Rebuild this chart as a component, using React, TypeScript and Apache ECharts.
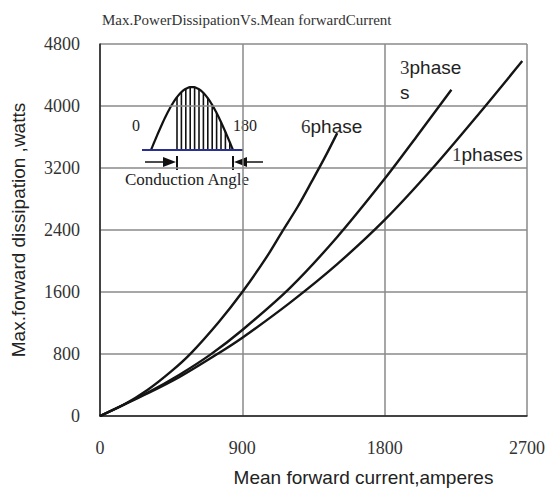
import React, { useEffect, useRef } from "react";
import * as echarts from "echarts";

const xTicks = [0, 900, 1800, 2700];
const yTicks = [0, 800, 1600, 2400, 3200, 4000, 4800];

const phase6Current = [0, 150, 300, 450, 573, 750, 900, 1050, 1152, 1250, 1340, 1420, 1500];
const phase6Power = [0, 145, 335, 575, 805, 1210, 1600, 2040, 2380, 2700, 3030, 3330, 3650];

const phase3Current = [0, 300, 500, 700, 900, 1200, 1500, 1800, 2000, 2222];
const phase3Power = [0, 300, 530, 795, 1110, 1650, 2310, 3060, 3600, 4210];

const phase1Current = [0, 300, 500, 750, 900, 1200, 1500, 1800, 2100, 2400, 2670];
const phase1Power = [0, 290, 500, 810, 1010, 1460, 1960, 2530, 3190, 3910, 4580];

const titleText = "Max.PowerDissipationVs.Mean forwardCurrent";
const xName = "Mean forward current,amperes";
const yName = "Max.forward dissipation ,watts";

const SERIF = "'Liberation Serif', 'DejaVu Serif', serif";
const SANS = "'Liberation Sans', Arial, sans-serif";

function pair(xs: number[], ys: number[]) {
  return xs.map((x, i) => [x, ys[i]]);
}

function buildInset() {
  const x0 = 151, x1 = 233, base = 150, amp = 63;
  const cy = (x: number) => base - amp * Math.sin((Math.PI * (x - x0)) / (x1 - x0));
  const pts: number[][] = [];
  for (let x = x0; x <= x1 + 0.001; x += 1) pts.push([x, cy(x)]);
  const hatch: any[] = [];
  for (let x = 177; x <= 231; x += 4.4) {
    hatch.push({
      type: "line",
      shape: { x1: x, y1: base, x2: x, y2: cy(x) },
      style: { stroke: "#111", lineWidth: 1.6 },
    });
  }
  return [
    { type: "rect", shape: { x: 120, y: 77, width: 153, height: 125 }, style: { fill: "#fff" } },
    ...hatch,
    { type: "polyline", shape: { points: pts }, style: { stroke: "#111", lineWidth: 2.2, fill: null } },
    { type: "line", shape: { x1: 142, y1: base, x2: 243, y2: base }, style: { stroke: "#2b2f8f", lineWidth: 2 } },
    { type: "line", shape: { x1: 145, y1: 162, x2: 165, y2: 162 }, style: { stroke: "#111", lineWidth: 1.5 } },
    { type: "polygon", shape: { points: [[163, 157], [176, 162], [163, 167]] }, style: { fill: "#111" } },
    { type: "line", shape: { x1: 177, y1: 156, x2: 177, y2: 170 }, style: { stroke: "#111", lineWidth: 2 } },
    { type: "line", shape: { x1: 233, y1: 156, x2: 233, y2: 170 }, style: { stroke: "#111", lineWidth: 2 } },
    { type: "polygon", shape: { points: [[247, 157], [234, 162], [247, 167]] }, style: { fill: "#111" } },
    { type: "line", shape: { x1: 247, y1: 162, x2: 263, y2: 162 }, style: { stroke: "#111", lineWidth: 1.5 } },
    { type: "text", x: 136, y: 125, style: { text: "0", font: `16px ${SERIF}`, fill: "#222", align: "center", verticalAlign: "middle" } },
    { type: "text", x: 245, y: 125, style: { text: "180", font: `16px ${SERIF}`, fill: "#222", align: "center", verticalAlign: "middle" } },
    { type: "text", x: 187, y: 179, style: { text: "Conduction Angle", font: `17px ${SERIF}`, fill: "#222", align: "center", verticalAlign: "middle" } },
  ];
}

function phaseLabel(x: number, y: number, num: string, rest: string) {
  return {
    type: "text",
    x,
    y,
    style: {
      text: `{n|${num}}{p|${rest}}`,
      verticalAlign: "middle",
      rich: {
        n: { fontFamily: SERIF, fontSize: 19, fill: "#333" },
        p: { fontFamily: SANS, fontSize: 19, fill: "#222" },
      },
    },
  };
}

export default function App() {
  const ref = useRef<HTMLDivElement>(null);
  useEffect(() => {
    document.body.style.margin = "0";
    if (!ref.current) return;
    const chart = echarts.init(ref.current, undefined, { renderer: "svg" });
    const lineStyle = { color: "#151515", width: 2.4 };
    chart.setOption({
      animation: false,
      backgroundColor: "#fff",
      grid: { left: 100, right: 22, top: 44, bottom: 77, containLabel: false },
      xAxis: {
        type: "value",
        min: xTicks[0],
        max: xTicks[xTicks.length - 1],
        interval: 900,
        axisLine: { show: true, lineStyle: { color: "#222", width: 1.5 } },
        axisTick: { show: false },
        axisLabel: { margin: 23, fontFamily: SERIF, fontSize: 18, color: "#333", formatter: (v: number) => String(v) },
        splitLine: { show: true, lineStyle: { color: "#8a8a8a", width: 1.5 } },
        name: xName,
        nameLocation: "middle",
        nameGap: 52,
        nameTextStyle: { fontFamily: SANS, fontSize: 19, color: "#222", padding: [0, 0, 0, 100] },
      },
      yAxis: {
        type: "value",
        min: yTicks[0],
        max: yTicks[yTicks.length - 1],
        interval: 800,
        axisLine: { show: true, lineStyle: { color: "#222", width: 1.5 } },
        axisTick: { show: false },
        axisLabel: { margin: 20, fontFamily: SERIF, fontSize: 18, color: "#333", formatter: (v: number) => String(v) },
        splitLine: { show: true, lineStyle: { color: "#8a8a8a", width: 1.5 } },
        name: yName,
        nameLocation: "middle",
        nameRotate: 90,
        nameGap: 72,
        nameTextStyle: { fontFamily: SANS, fontSize: 19, color: "#222" },
      },
      series: [
        { name: "6phase", type: "line", data: pair(phase6Current, phase6Power), smooth: 0.3, showSymbol: false, lineStyle },
        { name: "3phases", type: "line", data: pair(phase3Current, phase3Power), smooth: 0.3, showSymbol: false, lineStyle },
        { name: "1phases", type: "line", data: pair(phase1Current, phase1Power), smooth: 0.3, showSymbol: false, lineStyle },
      ],
      graphic: [
        {
          type: "text",
          x: 102,
          y: 20,
          style: { text: titleText, font: `15px ${SERIF}`, fill: "#333", verticalAlign: "middle" },
        },
        {
          type: "group",
          z: 10,
          children: [
            ...buildInset(),
            phaseLabel(301, 126, "6", "phase"),
            {
              type: "text",
              x: 400,
              y: 80,
              style: {
                text: "{n|3}{p|phase}\n{p|s}",
                verticalAlign: "middle",
                lineHeight: 25,
                rich: {
                  n: { fontFamily: SERIF, fontSize: 19, fill: "#333", lineHeight: 25 },
                  p: { fontFamily: SANS, fontSize: 19, fill: "#222", lineHeight: 25 },
                },
              },
            },
            phaseLabel(452, 154, "1", "phases"),
          ],
        },
      ],
    });
    return () => chart.dispose();
  }, []);
  return <div ref={ref} style={{ width: 549, height: 493 }} />;
}
